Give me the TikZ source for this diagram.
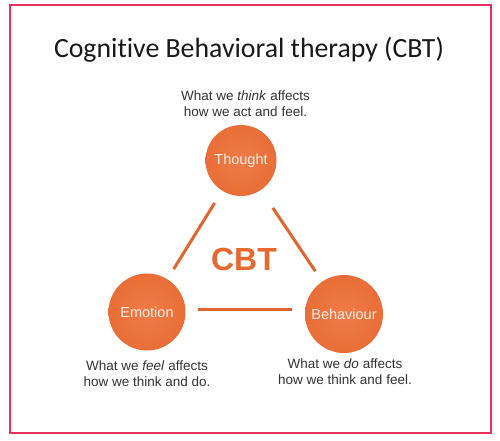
\documentclass[tikz,border=0pt]{standalone}
\usepackage{fontspec}
\usetikzlibrary{calc}
\setmainfont{Liberation Sans}
\newfontfamily\titlefont[Ligatures=NoCommon]{Carlito}
\definecolor{frame}{HTML}{E8325A}
\definecolor{orbin}{HTML}{F07C48}
\definecolor{orbmid}{HTML}{E6672F}
\definecolor{orbout}{HTML}{CD5220}
\definecolor{linkc}{HTML}{E0652E}
\definecolor{cbtc}{HTML}{E8692F}
\definecolor{bodyc}{HTML}{333333}
\definecolor{orbtext}{HTML}{FBEEE6}
\pgfdeclareradialshading{orb}{\pgfpoint{0bp}{0bp}}{color(0bp)=(orbin); color(36bp)=(orbmid); color(47bp)=(orbout); color(50bp)=(orbout)}
\begin{document}
\begin{tikzpicture}[x=1pt,y=-1pt,
  orbnode/.style={circle, shading=orb, inner sep=0pt, text=orbtext,
    font=\fontsize{14.5}{17}\selectfont},
  link/.style={draw=linkc, line width=3pt},
  note/.style={align=center, text=bodyc, inner sep=0pt, anchor=base,
    font=\fontsize{13.5}{16}\selectfont}]
\useasboundingbox (0,0) rectangle (500,440);
\fill[white] (0,0) rectangle (500,440);
\draw[frame, line width=2pt] (10,5) rectangle (490.5,433);
\node[anchor=base, inner sep=0pt, text=black!90, font=\titlefont\fontsize{27.8}{32}\selectfont] (title) at (249,57) {Cognitive Behavioral therapy (CBT)};
\node[orbnode, minimum size=71pt] (T) at (241,160.5) {Thought};
\node[orbnode, minimum size=77pt] (E) at (147,312) {Emotion};
\node[orbnode, minimum size=78pt] (B) at (344,314) {Behaviour};
\draw[link, shorten <=50pt, shorten >=50.5pt] (T.center) -- (E.center);
\draw[link, shorten <=57pt, shorten >=51.5pt] (T.center) -- (B.center);
\draw[link] ($(E.center)+(51,-3)$) -- ($(B.center)+(-52,-5)$);
\node[anchor=base, inner sep=0pt, text=cbtc, font=\bfseries\fontsize{32}{36}\selectfont] (cbt) at (244,270) {CBT};
\node[note] (tn) at (245.5,116) {What we \textit{think} affects\\how we act and feel.};
\node[note] (en) at (147,386) {What we \textit{feel} affects\\how we think and do.};
\node[note] (bn) at (345,384) {What we \textit{do} affects\\how we think and feel.};
\end{tikzpicture}
\end{document}
